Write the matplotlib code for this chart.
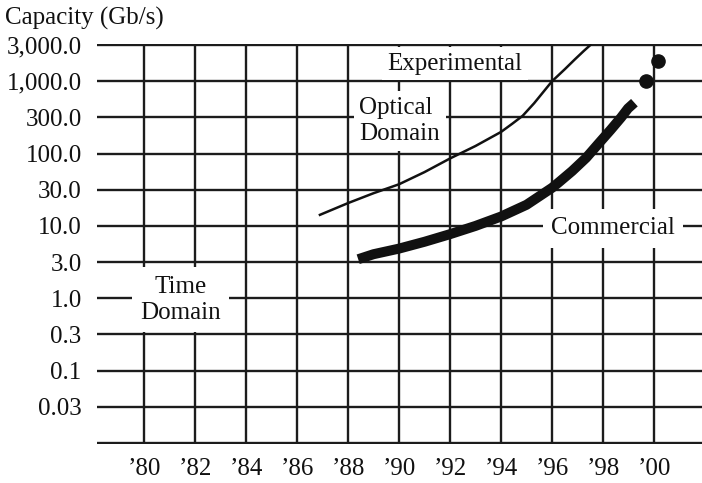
import numpy as np
import matplotlib
matplotlib.use("Agg")
import matplotlib.pyplot as plt

plt.rcParams['font.family'] = ['Liberation Serif', 'DejaVu Serif']

# capacity grid: each step is x3 or x3.33, drawn evenly spaced
cap_ticks = [0.01, 0.03, 0.1, 0.3, 1, 3, 10, 30, 100, 300, 1000, 3000]
cap_labels = ["", "0.03", "0.1", "0.3", "1.0", "3.0", "10.0", "30.0",
              "100.0", "300.0", "1,000.0", "3,000.0"]
years = list(range(80, 101, 2))
year_labels = ["\u2019%02d" % (y % 100) for y in years]

# experimental optical-domain systems
exp_year = [86.9, 88, 89, 90, 91, 92, 93, 94, 94.45, 94.85, 95.3,
            96, 96.5, 96.9, 97.25, 97.5]
exp_cap = [14, 20, 27, 36, 54, 85, 126, 193, 249, 317, 482,
           1000, 1440, 1950, 2520, 3000]

# commercial systems
com_year = [88.4, 89, 90, 91, 92, 93, 94, 95, 96, 96.25, 96.79, 97.34,
            97.82, 98.3, 98.71, 98.98, 99.23]
com_cap = [3.3, 3.9, 4.7, 5.9, 7.6, 10, 13.3, 19, 32, 38, 56, 87,
           135, 206, 300, 405, 490]

# latest results
pt_year = [99.7, 100.15]
pt_cap = [1000, 1830]

logt = np.log10(cap_ticks)
idx = np.arange(len(cap_ticks), dtype=float)


def fwd(v):
    lv = np.log10(np.maximum(np.asarray(v, float), 1e-9))
    pos = np.interp(lv, logt, idx)
    pos = np.where(lv < logt[0], (lv - logt[0]) / (logt[1] - logt[0]), pos)
    pos = np.where(lv > logt[-1], idx[-1] + (lv - logt[-1]) / (logt[-1] - logt[-2]), pos)
    return pos


def inv(p):
    p = np.asarray(p, float)
    lv = np.interp(p, idx, logt)
    lv = np.where(p < 0, logt[0] + p * (logt[1] - logt[0]), lv)
    lv = np.where(p > idx[-1], logt[-1] + (p - idx[-1]) * (logt[-1] - logt[-2]), lv)
    return 10 ** lv


fig = plt.figure(figsize=(7.02, 4.83), dpi=100)
ax = fig.add_axes([0.1382, 0.0807, 0.8618, 0.8282])
ax.set_yscale('function', functions=(fwd, inv))
ax.set_xlim(78.16, 101.88)
ax.set_ylim(inv(-0.03), inv(11.03))

ax.set_yticks(cap_ticks)
ax.set_yticklabels(cap_labels)
ax.set_xticks(years)
ax.set_xticklabels(year_labels)
ax.minorticks_off()
ax.tick_params(length=0, labelsize=18, colors='#111111')
ax.tick_params(axis='y', pad=11)
ax.tick_params(axis='x', pad=10)
for s in ax.spines.values():
    s.set_visible(False)
ax.set_axisbelow(True)
ax.grid(True, color='#1c1c1c', lw=1.7)

ax.plot(exp_year, exp_cap, color='#111111', lw=1.8, zorder=5)
ax.plot(com_year, com_cap, color='#111111', lw=7.2, solid_capstyle='butt', zorder=5)
ax.plot(pt_year, pt_cap, 'o', color='#111111', ms=9.5, zorder=5)

box = dict(facecolor='white', edgecolor='none', pad=4)
ax.text(92.2, 1700, "Experimental", ha='center', va='center', fontsize=18,
        color='#111111', bbox=box, zorder=3)
ax.text(88.45, 270, "Optical\nDomain", ha='left', va='center', fontsize=18,
        color='#111111', bbox=box, zorder=3, linespacing=1.25)
ax.text(98.4, 9.2, "Commercial", ha='center', va='center', fontsize=18,
        color='#111111', bbox=dict(facecolor='white', edgecolor='none', pad=6),
        zorder=3)
ax.text(81.45, 0.95, "Time\nDomain", ha='center', va='center', fontsize=18,
        color='#111111', bbox=dict(facecolor='white', edgecolor='none', pad=6),
        zorder=3, linespacing=1.25)

fig.text(0.007, 1 - 18 / 483, "Capacity (Gb/s)", ha='left', va='center',
         fontsize=18, color='#111111')

fig.savefig('out.png', dpi=100)
